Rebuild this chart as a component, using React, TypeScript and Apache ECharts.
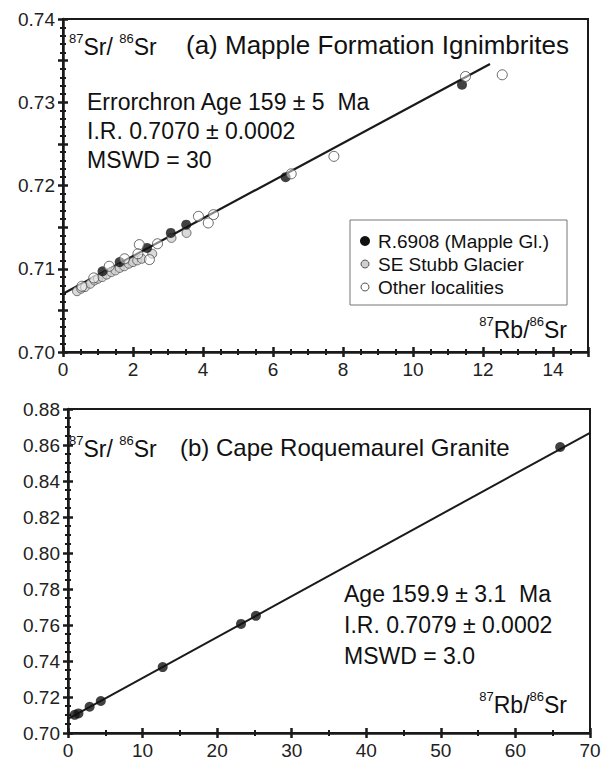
import React, { useEffect, useRef } from 'react';
import * as echarts from 'echarts';

// ---------- Panel (a): Mapple Formation Ignimbrites ----------
const filledA: number[][] = [
  [1.13, 0.7097], [1.62, 0.7108], [2.4, 0.7125], [3.08, 0.7143], [3.52, 0.7153],
  [6.36, 0.721], [11.4, 0.7321],
];
const hatchedA: number[][] = [
  [0.4, 0.7073], [0.52, 0.7076], [0.63, 0.7078], [0.78, 0.7082], [0.9, 0.7086],
  [1.0, 0.7088], [1.12, 0.709], [1.25, 0.7093], [1.38, 0.7096], [1.5, 0.7098],
  [1.62, 0.7101], [1.75, 0.7103], [1.88, 0.7106], [2.0, 0.7108], [2.12, 0.711],
  [2.25, 0.7112], [2.55, 0.7118], [3.1, 0.7137], [3.53, 0.7143],
];
const openA: number[][] = [
  [0.54, 0.7079], [0.88, 0.7089], [1.32, 0.7103], [1.76, 0.7112], [2.18, 0.7129],
  [2.14, 0.7118], [2.47, 0.7111], [2.7, 0.713], [3.87, 0.7163], [4.15, 0.7155],
  [4.3, 0.7165], [6.52, 0.7214], [7.74, 0.7235], [11.5, 0.7331], [12.55, 0.7333],
];
const isochronA: number[][] = [[0, 0.707], [12.2, 0.7346]];

// ---------- Panel (b): Cape Roquemaurel Granite ----------
const pointsB: number[][] = [
  [0.9, 0.7101], [1.4, 0.7109], [2.9, 0.7146], [4.4, 0.7178], [12.7, 0.7366],
  [23.2, 0.7606], [25.2, 0.7651], [66.0, 0.8589],
];
const isochronB: number[][] = [[0, 0.7079], [70, 0.8668]];

const xTickLabelsA = [0, 2, 4, 6, 8, 10, 12, 14];
const yTickLabelsA = [0.7, 0.71, 0.72, 0.73, 0.74];

const FONT = '"Liberation Sans", Arial, Helvetica, sans-serif';
const INK = '#1a1a1a';

function axisPair(kind: 'x' | 'y', gridIndex: number, min: number, max: number, interval: number,
  minorSplit: number, formatter: (v: number) => string) {
  const common = {
    type: 'value',
    gridIndex,
    min,
    max,
    interval,
    position: kind === 'x' ? 'bottom' : 'left',
    splitLine: { show: false },
    minorSplitLine: { show: false },
  };
  const main = {
    ...common,
    axisLine: { show: true, lineStyle: { color: INK, width: 2.5 } },
    axisTick: { show: true, inside: false, length: 5, lineStyle: { color: INK, width: 2.5 } },
    minorTick: { show: true, splitNumber: minorSplit, length: 3, lineStyle: { color: INK, width: 2 } },
    axisLabel: {
      show: true, fontFamily: FONT, fontSize: 19, color: '#222', margin: 8,
      formatter,
    },
  };
  const inner = {
    ...common,
    axisLine: { show: false },
    axisTick: { show: true, inside: true, length: 5, lineStyle: { color: INK, width: 2.5 } },
    minorTick: { show: true, splitNumber: minorSplit, length: 3, lineStyle: { color: INK, width: 2 } },
    axisLabel: { show: false },
  };
  return [main, inner];
}

function richText(x: number, y: number, text: string, size: number, align = 'left') {
  return {
    type: 'text',
    x,
    y,
    style: {
      text,
      fill: '#111',
      fontFamily: FONT,
      fontSize: size,
      textAlign: align,
      textVerticalAlign: 'middle',
      rich: {
        s: { fontSize: 13, fontFamily: FONT, color: '#111', verticalAlign: 'top', lineHeight: 26 },
        n: { fontSize: size, fontFamily: FONT, color: '#111', lineHeight: 26, verticalAlign: 'bottom' },
      },
    },
  };
}

function plainText(x: number, y: number, text: string, size: number) {
  return {
    type: 'text',
    x,
    y,
    style: { text, fill: '#111', fontFamily: FONT, fontSize: size, textVerticalAlign: 'middle' },
  };
}

export default function App() {
  const ref = useRef<HTMLDivElement>(null);
  useEffect(() => {
    if (!ref.current) return;
    const chart = echarts.init(ref.current, null, { renderer: 'svg' });

    const fmtXA = (v: number) => (xTickLabelsA.includes(v) ? String(v) : '');
    const fmtYA = (v: number) => {
      const hit = yTickLabelsA.find((t) => Math.abs(t - v) < 1e-7);
      return hit !== undefined ? hit.toFixed(2) : '';
    };
    const fmtXB = (v: number) => String(Math.round(v));
    const fmtYB = (v: number) => v.toFixed(2);

    const xA = axisPair('x', 0, 0, 15, 2, 4, fmtXA);
    const yA = axisPair('y', 0, 0.7, 0.74, 0.005, 5, fmtYA);
    const xB = axisPair('x', 1, 0, 70, 10, 2, fmtXB);
    const yB = axisPair('y', 1, 0.7, 0.88, 0.02, 4, fmtYB);

    const option: any = {
      animation: false,
      backgroundColor: '#ffffff',
      grid: [
        { left: 63, top: 19, width: 525, height: 333, show: true, borderColor: INK, borderWidth: 2 },
        { left: 68, top: 409, width: 522, height: 324, show: true, borderColor: INK, borderWidth: 2 },
      ],
      xAxis: [...xA, ...xB],
      yAxis: [...yA, ...yB],
      series: [
        {
          type: 'line', xAxisIndex: 0, yAxisIndex: 0, data: isochronA, symbol: 'none',
          lineStyle: { color: INK, width: 2.2 }, z: 2,
        },
        {
          name: 'SE Stubb Glacier', type: 'scatter', xAxisIndex: 0, yAxisIndex: 0, data: hatchedA,
          symbol: 'circle', symbolSize: 9,
          itemStyle: { color: '#cfcfcf', borderColor: '#555', borderWidth: 1 }, z: 3,
        },
        {
          name: 'R.6908 (Mapple Gl.)', type: 'scatter', xAxisIndex: 0, yAxisIndex: 0, data: filledA,
          symbol: 'circle', symbolSize: 10,
          itemStyle: { color: '#111', borderColor: '#111', borderWidth: 0 }, z: 4,
        },
        {
          name: 'Other localities', type: 'scatter', xAxisIndex: 0, yAxisIndex: 0, data: openA,
          symbol: 'circle', symbolSize: 10,
          itemStyle: { color: 'rgba(255,255,255,0.6)', borderColor: '#444', borderWidth: 1 }, z: 5,
        },
        {
          type: 'line', xAxisIndex: 2, yAxisIndex: 2, data: isochronB, symbol: 'none',
          lineStyle: { color: INK, width: 2 }, z: 2,
        },
        {
          type: 'scatter', xAxisIndex: 2, yAxisIndex: 2, data: pointsB,
          symbol: 'circle', symbolSize: 10,
          itemStyle: { color: '#111' }, z: 4,
        },
      ],
      graphic: [
        // Panel (a)
        richText(69, 45, '{s|87}{n|Sr/ }{s|86}{n|Sr}', 23),
        plainText(186, 45, '(a) Mapple Formation Ignimbrites', 26),
        plainText(87, 102, 'Errorchron Age 159 ± 5  Ma', 23),
        plainText(87, 131, 'I.R. 0.7070 ± 0.0002', 23),
        plainText(87, 160, 'MSWD = 30', 23),
        {
          type: 'rect', shape: { x: 350, y: 220, width: 217, height: 85 },
          style: { fill: '#fff', stroke: '#777', lineWidth: 1 }, z: 10,
        },
        { type: 'circle', shape: { cx: 365, cy: 241, r: 5 }, style: { fill: '#111' }, z: 11 },
        { type: 'circle', shape: { cx: 365, cy: 264, r: 4 }, style: { fill: '#cfcfcf', stroke: '#555', lineWidth: 1 }, z: 11 },
        { type: 'circle', shape: { cx: 365, cy: 287, r: 4 }, style: { fill: '#fff', stroke: '#555', lineWidth: 1 }, z: 11 },
        { ...plainText(378, 241, 'R.6908 (Mapple Gl.)', 19), z: 11 },
        { ...plainText(378, 264, 'SE Stubb Glacier', 19), z: 11 },
        { ...plainText(378, 287, 'Other localities', 19), z: 11 },
        richText(567, 328, '{s|87}{n|Rb/}{s|86}{n|Sr}', 23, 'right'),
        // Panel (b)
        richText(69, 447, '{s|87}{n|Sr/ }{s|86}{n|Sr}', 23),
        plainText(180, 447, '(b) Cape Roquemaurel Granite', 24),
        plainText(344, 594, 'Age 159.9 ± 3.1  Ma', 23),
        plainText(344, 625, 'I.R. 0.7079 ± 0.0002', 23),
        plainText(344, 656, 'MSWD = 3.0', 23),
        richText(567, 703, '{s|87}{n|Rb/}{s|86}{n|Sr}', 23, 'right'),
      ],
    };
    chart.setOption(option);
    return () => chart.dispose();
  }, []);
  return <div ref={ref} style={{ position: 'absolute', left: 0, top: 0, width: 605, height: 765 }} />;
}
